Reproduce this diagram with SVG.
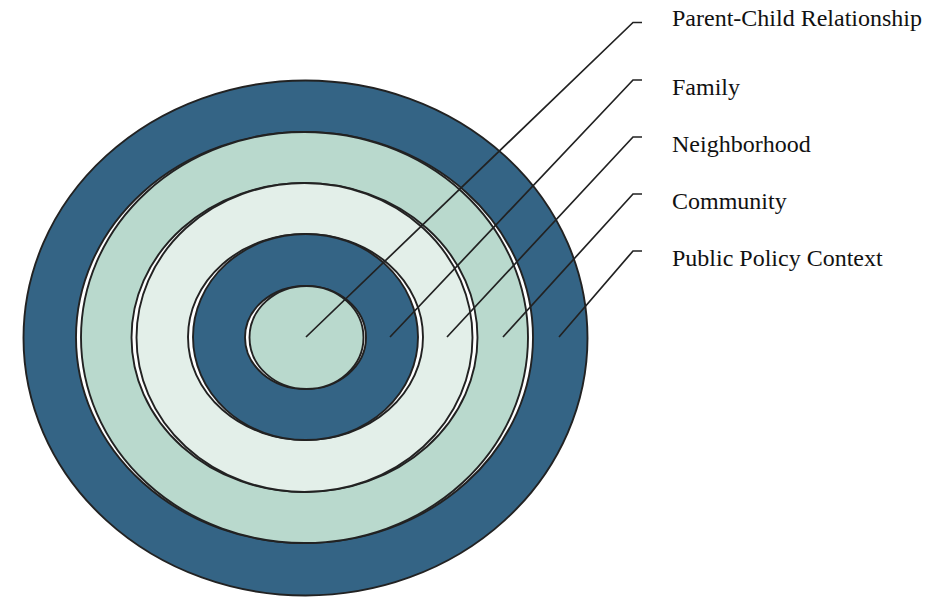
<svg xmlns="http://www.w3.org/2000/svg" width="948" height="597" viewBox="0 0 948 597">
<style>
.ring{stroke:#222;stroke-width:1.9}
.gap{fill:#fff}
.dark{fill:#346485}
.mint{fill:#b9d9cd}
.light{fill:#e3efe9}
.lead{fill:none;stroke:#222;stroke-width:1.7}
.lbl{font-family:"Liberation Serif","Times New Roman",serif;font-size:24px;fill:#111}
</style>
<rect width="948" height="597" fill="#fff"/>
<g id="public-policy-context">
<ellipse class="ring dark" cx="305.5" cy="338" rx="282" ry="257.5"/>
</g>
<g id="community">
<ellipse class="ring gap" cx="304.5" cy="337.5" rx="228.5" ry="205.5"/>
<ellipse class="ring mint" cx="304.5" cy="337.5" rx="223.5" ry="205.5"/>
</g>
<g id="neighborhood">
<ellipse class="ring gap" cx="304.5" cy="337.5" rx="173" ry="154.5"/>
<ellipse class="ring light" cx="304.5" cy="337.5" rx="168" ry="154.5"/>
</g>
<g id="family">
<ellipse class="ring gap" cx="305.5" cy="337" rx="117.5" ry="103"/>
<ellipse class="ring dark" cx="305.5" cy="337" rx="112.5" ry="103"/>
</g>
<g id="parent-child-relationship">
<ellipse class="ring gap" cx="305.5" cy="337.5" rx="60.5" ry="51.5"/>
<ellipse class="ring mint" cx="306.5" cy="337.5" rx="57" ry="51.5"/>
</g>
<g id="connectors">
<polyline class="lead" points="306,337 633,22.5 642,22.5"/>
<polyline class="lead" points="390,337 633,80 642,80"/>
<polyline class="lead" points="447,337 633,137 642,137"/>
<polyline class="lead" points="503,337 633,194 642,194"/>
<polyline class="lead" points="559,337 633,251 642,251"/>
</g>
<g id="labels">
<text class="lbl" x="672" y="26">Parent-Child Relationship</text>
<text class="lbl" x="672" y="95">Family</text>
<text class="lbl" x="672" y="152">Neighborhood</text>
<text class="lbl" x="672" y="209">Community</text>
<text class="lbl" x="672" y="266">Public Policy Context</text>
</g>
</svg>
